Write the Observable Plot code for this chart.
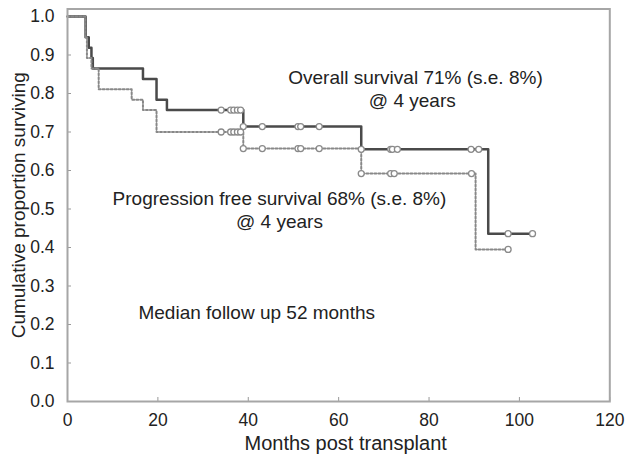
<!DOCTYPE html>
<html>
<head>
<meta charset="utf-8">
<script src="https://cdn.jsdelivr.net/npm/d3@7"></script>
<script src="https://cdn.jsdelivr.net/npm/@observablehq/plot@0.6"></script>
<style>
  html, body { margin: 0; padding: 0; background: #fff; }
  #chart { width: 629px; height: 461px; }
</style>
</head>
<body>
<div id="chart"></div>
<script>
// Overall survival (solid) step curve
const osTime = [0, 4.0, 4.7, 5.3, 5.6, 16.7, 19.7, 22.0, 38.9, 65.0, 93.1, 102.9];
const osSurv = [1.0, 0.946, 0.919, 0.892, 0.865, 0.838, 0.784, 0.757, 0.714, 0.655, 0.436, 0.436];
// Overall survival censored observations
const osCensTime = [34.0, 36.1, 36.8, 37.6, 38.3, 38.9, 43.1, 51.0, 51.6, 55.7, 65.0, 71.5, 71.9, 73.0, 89.3, 91.0, 97.5, 102.9];
const osCensSurv = [0.757, 0.757, 0.757, 0.757, 0.757, 0.714, 0.714, 0.714, 0.714, 0.714, 0.655, 0.655, 0.655, 0.655, 0.655, 0.655, 0.436, 0.436];

// Progression free survival (dotted) step curve
const pfsTime = [0, 3.9, 4.3, 5.3, 6.9, 14.2, 16.7, 19.7, 38.9, 65.0, 90.3, 97.5];
const pfsSurv = [1.0, 0.946, 0.892, 0.865, 0.811, 0.784, 0.757, 0.700, 0.657, 0.592, 0.395, 0.395];
// Progression free survival censored observations
const pfsCensTime = [34.0, 36.1, 36.8, 37.6, 38.3, 38.9, 43.1, 51.0, 51.6, 55.7, 65.0, 71.5, 72.3, 89.4, 97.5];
const pfsCensSurv = [0.700, 0.700, 0.700, 0.700, 0.700, 0.657, 0.657, 0.657, 0.657, 0.657, 0.592, 0.592, 0.592, 0.592, 0.395];

// Axis ticks
const xTicks = [0, 20, 40, 60, 80, 100, 120];
const yTicks = [0, 0.1, 0.2, 0.3, 0.4, 0.5, 0.6, 0.7, 0.8, 0.9, 1.0];

// Annotation texts (centered)
const annoText = [
  "Overall survival 71% (s.e. 8%)",
  "@ 4 years",
  "Progression free survival 68% (s.e. 8%)",
  "@ 4 years"
];
const annoX = [77.0, 76.3, 46.9, 46.9];
const annoY = [0.8416, 0.7818, 0.527, 0.4675];
// Left-aligned note
const noteText = ["Median follow up 52 months"];
const noteX = [15.7];
const noteY = [0.231];

const osData = osTime.map((t, i) => ({t, s: osSurv[i]}));
const pfsData = pfsTime.map((t, i) => ({t, s: pfsSurv[i]}));
const osCens = osCensTime.map((t, i) => ({t, s: osCensSurv[i]}));
const pfsCens = pfsCensTime.map((t, i) => ({t, s: pfsCensSurv[i]}));
const annos = annoText.map((text, i) => ({text, x: annoX[i], y: annoY[i]}));
const notes = noteText.map((text, i) => ({text, x: noteX[i], y: noteY[i]}));

const chart = Plot.plot({
  width: 629,
  height: 461,
  marginLeft: 67,
  marginRight: 19.7,
  marginTop: 8.5,
  marginBottom: 60,
  style: {fontFamily: "'Liberation Sans', Arial, sans-serif", fontSize: "18px", color: "#222", background: "#fff"},
  x: {domain: [0, 120]},
  y: {domain: [0, 1.0195]},
  marks: [
    Plot.axisX({ticks: xTicks, tickSize: -4, tickPadding: 16, tickFormat: d3.format("d"), stroke: "#999", fill: "#222", label: null, fontSize: 17.5}),
    Plot.axisY({ticks: yTicks, tickSize: -4, tickPadding: 17, tickFormat: d3.format(".1f"), stroke: "#999", fill: "#222", label: null, fontSize: 17.5}),
    Plot.line(osData, {x: "t", y: "s", curve: "step-after", stroke: "#4a4a4a", strokeWidth: 2.5}),
    Plot.line(pfsData, {x: "t", y: "s", curve: "step-after", stroke: "#888", strokeWidth: 2, strokeDasharray: "2,2"}),
    Plot.dot(osCens, {x: "t", y: "s", r: 3, stroke: "#8a8a8a", strokeWidth: 1.3, fill: "#fff"}),
    Plot.dot(pfsCens, {x: "t", y: "s", r: 3, stroke: "#8a8a8a", strokeWidth: 1.3, fill: "#fff"}),
    Plot.frame({stroke: "#a6a6a6", strokeWidth: 2}),
    Plot.text(annos, {x: "x", y: "y", text: "text", textAnchor: "middle", lineAnchor: "middle", fontSize: 19, fill: "#222"}),
    Plot.text(notes, {x: "x", y: "y", text: "text", textAnchor: "start", lineAnchor: "middle", fontSize: 19, fill: "#222"}),
    Plot.text(["Months post transplant"], {frameAnchor: "bottom", dx: 7, dy: 48, lineAnchor: "bottom", fontSize: 20, fill: "#222"}),
    Plot.text(["Cumulative proportion surviving"], {frameAnchor: "left", dx: -49, rotate: -90, textAnchor: "middle", lineAnchor: "middle", fontSize: 19, fill: "#222"})
  ]
});
document.getElementById("chart").appendChild(chart);
</script>
</body>
</html>
